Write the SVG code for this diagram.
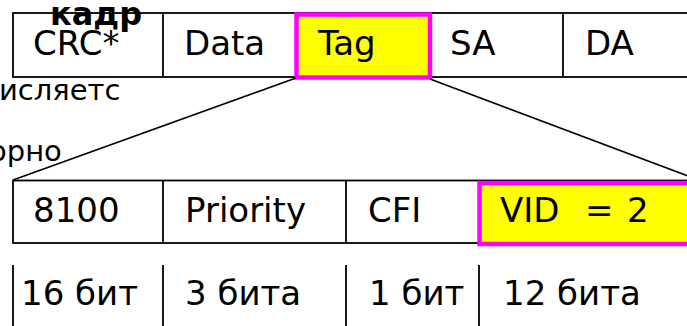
<svg xmlns="http://www.w3.org/2000/svg" width="687" height="326" viewBox="0 0 687 326">
<style>
.box{fill:#fff;stroke:#000;stroke-width:1.8}
.hl{fill:#ffff00;stroke:#ff00ff;stroke-width:4.5}
.div{stroke:#000;stroke-width:1.8}
.t{font-family:"DejaVu Sans",Verdana,sans-serif;font-size:34px;fill:#000}
.b{font-weight:bold;font-size:32px}
.n{font-size:29px}
.conn{stroke:#000;stroke-width:1.6;fill:none}
</style>
<rect width="687" height="326" fill="#fff"/>
<g id="frame">
<rect class="box" x="13" y="13" width="690" height="64"/>
<line class="div" x1="163" y1="13" x2="163" y2="77"/>
<line class="div" x1="563" y1="13" x2="563" y2="77"/>
<text class="t" x="33" y="55">CRC*</text>
<text class="t" x="184" y="55">Data</text>
<text class="t" x="450" y="55">SA</text>
<text class="t" x="585" y="55">DA</text>
</g>
<g id="tag">
<rect class="hl" x="296.5" y="14.5" width="133.5" height="63"/>
<text class="t" x="318" y="55">Tag</text>
</g>
<g id="title">
<text class="t b" x="50" y="25">кадр</text>
</g>
<g id="note">
<text class="t n" x="-1" y="100">исляетс</text>
<text class="t n" x="-11" y="161">орно</text>
</g>
<g id="connectors">
<line class="conn" x1="296" y1="78" x2="13" y2="180"/>
<line class="conn" x1="430" y1="79" x2="720" y2="188"/>
</g>
<g id="tagfields">
<rect class="box" x="13" y="180.5" width="690" height="62.5"/>
<line class="div" x1="163" y1="181" x2="163" y2="243"/>
<line class="div" x1="346" y1="181" x2="346" y2="243"/>
<text class="t" x="33" y="222">8100</text>
<text class="t" x="185" y="222">Priority</text>
<text class="t" x="368" y="222">CFI</text>
</g>
<g id="vid">
<rect class="hl" x="479.5" y="183" width="230" height="61"/>
<text class="t" y="222"><tspan x="500">VID</tspan><tspan x="585">=</tspan><tspan x="627">2</tspan></text>
</g>
<g id="bits">
<line class="div" x1="13" y1="265" x2="13" y2="326"/>
<line class="div" x1="163" y1="265" x2="163" y2="326"/>
<line class="div" x1="346" y1="265" x2="346" y2="326"/>
<line class="div" x1="479" y1="265" x2="479" y2="326"/>
<text class="t" x="21" y="305">16 бит</text>
<text class="t" x="185" y="305">3 бита</text>
<text class="t" x="369" y="305">1 бит</text>
<text class="t" x="503" y="305">12 бита</text>
</g>
</svg>
